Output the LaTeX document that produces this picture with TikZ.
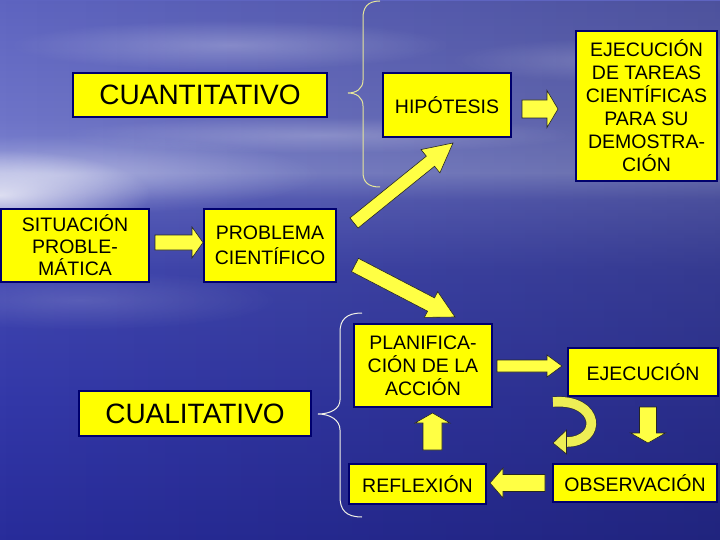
\documentclass[tikz,border=0pt]{standalone}
\usepackage{fontspec}
\setmainfont{Liberation Sans}
\usetikzlibrary{calc,fadings}
\definecolor{boxyellow}{HTML}{FFFF00}
\definecolor{boxnavy}{HTML}{00006E}
\definecolor{arryellow}{HTML}{FFFF44}
\definecolor{curvey}{HTML}{EEEE55}
\definecolor{bgbot}{HTML}{282C9A}
\definecolor{bgsea}{HTML}{3338A8}
\definecolor{bgmid}{HTML}{4147B0}
\definecolor{bghor}{HTML}{5A60BE}
\definecolor{bgglow}{HTML}{7F86D0}
\definecolor{bgsky}{HTML}{6E74C8}
\definecolor{bgtop}{HTML}{5E64C0}
\definecolor{bracetop}{HTML}{E6E69A}
\definecolor{bracebot}{HTML}{F2F2E6}
\pgfdeclareverticalshading{bgsh}{100bp}{color(0bp)=(bgbot); color(25bp)=(bgbot); color(38bp)=(bgsea); color(50bp)=(bgmid); color(56.5bp)=(bghor); color(59bp)=(bgglow); color(64bp)=(bgsky); color(75bp)=(bgtop); color(100bp)=(bgtop)}
\tikzfading[name=softblob, inner color=transparent!0, outer color=transparent!100]
\tikzfading[name=darkright, left color=transparent!100, right color=transparent!0]
\newcommand\blkarrow[5]{%
  \coordinate (bah) at ($(#2)!#5pt!(#1)$);
  \path[blockarr] ($(#1)!#3pt!90:(#2)$) -- ($(bah)!#3pt!90:(#2)$) -- ($(bah)!#4pt!90:(#2)$) -- (#2)
    -- ($(bah)!#4pt!-90:(#2)$) -- ($(bah)!#3pt!-90:(#2)$) -- ($(#1)!#3pt!-90:(#2)$) -- cycle;}
\tikzset{
  box/.style={draw=boxnavy, line width=2.6pt, fill=boxyellow, text=black, align=center, inner sep=0pt,
    font=\fontsize{19.5}{23}\selectfont},
  bigbox/.style={box, font=\fontsize{28}{32}\selectfont},
  blockarr/.style={fill=arryellow, draw=black!85, line width=0.6pt, line join=miter},
  bracetopst/.style={draw=bracetop, line width=1pt},
  bracebotst/.style={draw=bracebot, line width=1pt},
  cloud/.style={fill=white, path fading=softblob}
}
\begin{document}
\begin{tikzpicture}[x=1pt,y=-1pt]
\useasboundingbox (0,0) rectangle (720,540);
% background
\shade[shading=bgsh] (0,0) rectangle (720,540);
\fill[black, opacity=0.18, path fading=darkright] (0,0) rectangle (720,540);
\fill[cloud, opacity=0.75] (0,195) ellipse (150 and 45);
\fill[cloud, opacity=0.35] (60,175) ellipse (260 and 40);
\fill[cloud, opacity=0.25] (230,45) ellipse (220 and 25);
\fill[cloud, opacity=0.22] (320,135) ellipse (260 and 18);
\fill[cloud, opacity=0.18] (610,60) ellipse (160 and 22);
\fill[cloud, opacity=0.15] (80,300) ellipse (200 and 30);

% boxes
\node[bigbox, minimum width=254, minimum height=44] (cuant) at (200,95) {CUANTITATIVO};
\node[bigbox, minimum width=232, minimum height=45] (cual) at (195,413.5) {CUALITATIVO};
\node[box, minimum width=128, minimum height=64] (hip) at (447,105) {HIPÓTESIS};
\node[box, minimum width=141, minimum height=150] (ejt) at (646.5,106)
  {EJECUCIÓN\\DE TAREAS\\CIENTÍFICAS\\PARA SU\\DEMOSTRA-\\CIÓN};
\node[box, minimum width=148, minimum height=73, font=\fontsize{19.5}{22}\selectfont] (sit) at (75,245.5)
  {SITUACIÓN\\PROBLE-\\MÁTICA};
\node[box, minimum width=132, minimum height=73, font=\fontsize{19.5}{25}\selectfont] (prob) at (270,245.5)
  {PROBLEMA\\CIENTÍFICO};
\node[box, minimum width=138, minimum height=83] (plan) at (423,365.5)
  {PLANIFICA-\\CIÓN DE LA\\ACCIÓN};
\node[box, minimum width=150, minimum height=48] (ejec) at (643,372) {EJECUCIÓN};
\node[box, minimum width=164, minimum height=38] (obs) at (635,483) {OBSERVACIÓN};
\node[box, minimum width=137, minimum height=40] (refl) at (417.5,484) {REFLEXIÓN};

% arrow end points
\coordinate (a1t) at (522,109);   \coordinate (a1h) at (558,109);
\coordinate (a2t) at (155,242.5); \coordinate (a2h) at (203,242.5);
\coordinate (a3t) at (497,366);   \coordinate (a3h) at (562,366);
\coordinate (a4t) at (648,407);   \coordinate (a4h) at (648,443);
\coordinate (a5t) at (545,483);   \coordinate (a5h) at (490,483);
\coordinate (a6t) at (432.5,450); \coordinate (a6h) at (432.5,413);
\coordinate (a7t) at (354,223);   \coordinate (a7h) at (453,143);
\coordinate (a8t) at (355,265);   \coordinate (a8h) at (455,317);

\blkarrow{a1t}{a1h}{9}{18.5}{11}
\blkarrow{a2t}{a2h}{7.5}{15.5}{11}
\blkarrow{a3t}{a3h}{6}{11}{15}
\blkarrow{a4t}{a4h}{8.5}{17.5}{10}
\blkarrow{a5t}{a5h}{8.5}{15}{13}
\blkarrow{a6t}{a6h}{9.5}{17.5}{10}
\blkarrow{a7t}{a7h}{6.5}{15}{29}
\blkarrow{a8t}{a8h}{7.5}{14.5}{27}

% curved arrow
\coordinate (c1) at (553,402);
\coordinate (c2) at (566,442);
\draw[black!80, line width=11pt] (c1) .. controls (600,398) and (603,442) .. (c2);
\draw[curvey, line width=9.6pt] (c1) .. controls (600,398) and (603,442) .. (c2);
\path[blockarr, fill=curvey] (566.5,430) -- (553,443) -- (566.5,454) -- cycle;

% braces
\draw[bracetopst] (380,1) .. controls (367,1) and (363,8) .. (363,18) -- (363,80)
  .. controls (363,89) and (356,93) .. (348,93) .. controls (356,93) and (363,97) .. (363,106)
  -- (363,172) .. controls (363,182) and (368,187) .. (380,187);
\draw[bracebotst] (362,313) .. controls (346,313) and (340,320) .. (340,332) -- (340,400)
  .. controls (340,409) and (330,414) .. (318,414) .. controls (330,414) and (340,420) .. (340,430)
  -- (340,497) .. controls (340,510) and (346,517) .. (362,517);
\end{tikzpicture}
\end{document}
